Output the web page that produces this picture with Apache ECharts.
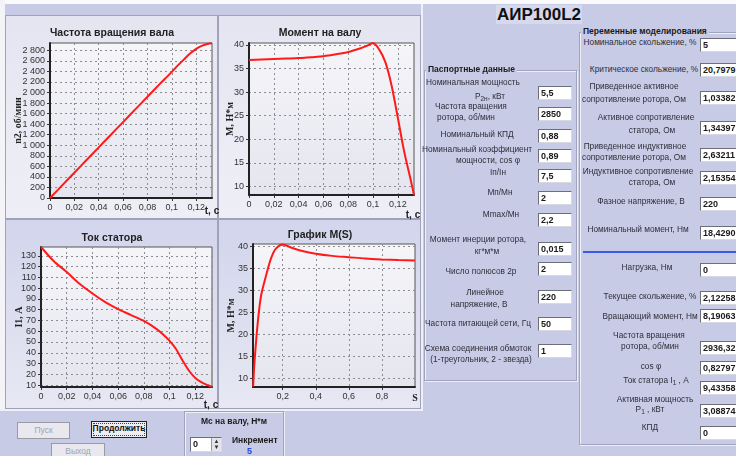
<!DOCTYPE html>
<html>
<head>
<meta charset="utf-8">
<script src="https://cdn.jsdelivr.net/npm/echarts@6/dist/echarts.min.js"></script>
<style>
html, body { margin: 0; padding: 0; width: 736px; height: 456px; overflow: hidden; background: #c8cbe5; font-family: "Liberation Sans", Arial, sans-serif; }
.abs { position: absolute; }
.panel { position: absolute; box-sizing: border-box; border: 1px solid #9fa2b8; background: linear-gradient(#e4e5f1, #eeeff6); }
.panel.low { background: linear-gradient(#d2d5ec, #e7e8f3); }
#chart { position: absolute; left: 0; top: 0; width: 425px; height: 412px; }
.lbl { position: absolute; width: 130px; font-size: 8.3px; line-height: 11px; color: #2e2e3a; text-align: center; white-space: nowrap; }
.inp { position: absolute; height: 14px; box-sizing: border-box; background: #fff; border-top: 1px solid #6e6e7a; border-left: 1px solid #6e6e7a; border-right: 1px solid #d8d8e0; border-bottom: 1px solid #d8d8e0; font-size: 9px; font-weight: bold; color: #1a1a1a; line-height: 12px; padding-left: 2px; white-space: nowrap; overflow: hidden; }
.l { left: 538px; width: 34px; }
.r { left: 700px; width: 44px; }
.grp { position: absolute; box-sizing: border-box; border: 1px solid #a0a3ba; box-shadow: inset 1px 1px 0 #eef0f8, 1px 1px 0 #eef0f8; }
.head { position: absolute; font-size: 8.5px; font-weight: bold; color: #1a1a1a; background: #c8cbe5; padding: 0 2px; line-height: 11px; }
.btn { position: absolute; box-sizing: border-box; font-size: 8.5px; text-align: center; line-height: 14px; border: 1px solid #9a9aa6; background: #e8e8ee; color: #a4a4ae; }
sub { font-size: 6.5px; vertical-align: -2px; }
</style>
</head>
<body>
<div class="abs" style="left:0;top:0;width:736px;height:4px;background:#fafafc"></div>
<div class="abs" style="left:0;top:0;width:5px;height:410px;background:#f4f4f8"></div>
<div class="abs" style="left:421px;top:4px;width:2px;height:406px;background:#eef0f8"></div>
<div class="abs" style="left:0;top:409px;width:423px;height:2px;background:#eef0f8"></div>
<div class="panel" style="left:5px;top:15px;width:213px;height:204px"></div>
<div class="panel" style="left:218px;top:15px;width:203px;height:204px"></div>
<div class="panel low" style="left:5px;top:219px;width:213px;height:190px"></div>
<div class="panel low" style="left:218px;top:219px;width:203px;height:190px"></div>
<div id="chart"></div>

<div class="abs" style="left:496px;top:5px;width:86px;height:19px;background:#d6d8ec;font-size:17px;font-weight:bold;line-height:19px;text-align:center;color:#111">АИР100L2</div>

<!-- Паспортные данные -->
<div class="grp" style="left:424px;top:70px;width:153px;height:311px"></div>
<div class="head" style="left:426px;top:64px">Паспортные данные</div>
<div class="lbl" style="left:408px;top:77px">Номинальная мощность</div>
<div class="lbl" style="left:425px;top:91px">P<sub>2н</sub>, кВт</div>
<div class="inp l" style="top:86px">5,5</div>
<div class="lbl" style="left:406px;top:101px">Частота вращения</div>
<div class="lbl" style="left:401px;top:112px">ротора, об/мин</div>
<div class="inp l" style="top:107px">2850</div>
<div class="lbl" style="left:412px;top:129px">Номинальный КПД</div>
<div class="inp l" style="top:129px">0,88</div>
<div class="lbl" style="left:412px;top:144px">Номинальный коэффициент</div>
<div class="lbl" style="left:423px;top:155px">мощности, cos φ</div>
<div class="inp l" style="top:149px">0,89</div>
<div class="lbl" style="left:433px;top:167px">Iп/Iн</div>
<div class="inp l" style="top:169px">7,5</div>
<div class="lbl" style="left:435px;top:187px">Мп/Мн</div>
<div class="inp l" style="top:191px">2</div>
<div class="lbl" style="left:436px;top:209px">Мmax/Мн</div>
<div class="inp l" style="top:213px">2,2</div>
<div class="lbl" style="left:413px;top:234px">Момент инерции ротора,</div>
<div class="lbl" style="left:422px;top:246px">кг*м*м</div>
<div class="inp l" style="top:242px">0,015</div>
<div class="lbl" style="left:416px;top:266px">Число полюсов 2р</div>
<div class="inp l" style="top:262px">2</div>
<div class="lbl" style="left:420px;top:287px">Линейное</div>
<div class="lbl" style="left:414px;top:299px">напряжение, В</div>
<div class="inp l" style="top:290px">220</div>
<div class="lbl" style="left:413px;top:318px">Частота питающей сети, Гц</div>
<div class="inp l" style="top:317px">50</div>
<div class="lbl" style="left:413px;top:343px">Схема соединения обмоток</div>
<div class="lbl" style="left:416px;top:354px">(1-треугольник, 2 - звезда)</div>
<div class="inp l" style="top:344px">1</div>

<!-- Переменные моделирования -->
<div class="grp" style="left:579px;top:32px;width:170px;height:413px"></div>
<div class="head" style="left:581px;top:26px">Переменные моделирования</div>
<div class="lbl" style="left:575px;top:37px">Номинальное скольжение, %</div>
<div class="inp r" style="top:38px">5</div>
<div class="lbl" style="left:579px;top:64px">Критическое скольжение, %</div>
<div class="inp r" style="top:63px">20,7979</div>
<div class="lbl" style="left:569px;top:81px">Приведенное активное</div>
<div class="lbl" style="left:569px;top:94px">сопротивление ротора, Ом</div>
<div class="inp r" style="top:91px">1,03382</div>
<div class="lbl" style="left:581px;top:112px">Активное сопротивление</div>
<div class="lbl" style="left:587px;top:125px">статора, Ом</div>
<div class="inp r" style="top:121px">1,34397</div>
<div class="lbl" style="left:570px;top:141px">Приведенное индуктивное</div>
<div class="lbl" style="left:569px;top:152px">сопротивление ротора, Ом</div>
<div class="inp r" style="top:148px">2,63211</div>
<div class="lbl" style="left:573px;top:166px">Индуктивное сопротивление</div>
<div class="lbl" style="left:587px;top:177px">статора, Ом</div>
<div class="inp r" style="top:171px">2,15354</div>
<div class="lbl" style="left:576px;top:196px">Фазное напряжение, В</div>
<div class="inp r" style="top:197px">220</div>
<div class="lbl" style="left:573px;top:224px">Номинальный момент, Нм</div>
<div class="inp r" style="top:226px">18,4290</div>
<div class="abs" style="left:583px;top:251px;width:153px;height:2px;background:#3c5ae6"></div>
<div class="lbl" style="left:582px;top:262px">Нагрузка, Нм</div>
<div class="inp r" style="top:263px">0</div>
<div class="lbl" style="left:585px;top:291px">Текущее скольжение, %</div>
<div class="inp r" style="top:291px">2,12258</div>
<div class="lbl" style="left:585px;top:311px">Вращающий момент, Нм</div>
<div class="inp r" style="top:309px">8,19063</div>
<div class="lbl" style="left:584px;top:330px">Частота вращения</div>
<div class="lbl" style="left:585px;top:341px">ротора, об/мин</div>
<div class="inp r" style="top:341px">2936,32</div>
<div class="lbl" style="left:586px;top:361px">cos φ</div>
<div class="inp r" style="top:361px">0,82797</div>
<div class="lbl" style="left:591px;top:375px">Ток статора I<sub>1</sub> , А</div>
<div class="inp r" style="top:381px">9,43358</div>
<div class="lbl" style="left:590px;top:394px">Активная мощность</div>
<div class="lbl" style="left:585px;top:404px">P<sub>1</sub> , кВт</div>
<div class="inp r" style="top:404px">3,08874</div>
<div class="lbl" style="left:585px;top:422px">КПД</div>
<div class="inp r" style="top:426px">0</div>

<!-- кнопки -->
<div class="btn" style="left:17px;top:422px;width:53px;height:17px;line-height:15px">Пуск</div>
<div class="btn" style="left:91px;top:421px;width:56px;height:17px;line-height:13px;background:#eeeef2;color:#111;font-weight:bold;border:1px solid #222;outline:1px dotted #444;outline-offset:-3px;overflow:hidden;white-space:nowrap">Продолжить</div>
<div class="btn" style="left:51px;top:443px;width:54px;height:17px;line-height:15px">Выход</div>
<div class="grp" style="left:184px;top:411px;width:100px;height:50px"></div>
<div class="abs" style="left:186px;top:416px;width:96px;text-align:center;font-size:8.5px;font-weight:bold;color:#1a1a1a">Мс на валу, Н*м</div>
<div class="inp" style="left:190px;top:437px;width:32px;height:15px">0<span style="position:absolute;right:0;top:0;width:9px;height:13px;background:#e4e4ea;border-left:1px solid #999;font-size:6px;line-height:6px;text-align:center;color:#333">▲<br>▼</span></div>
<div class="abs" style="left:232px;top:435px;font-size:8.5px;font-weight:bold;color:#1a1a1a">Инкремент</div>
<div class="abs" style="left:247px;top:446px;font-size:9px;font-weight:bold;color:#2448e0">5</div>

<script>
// время переходного процесса, с
var timeS = [0, 0.01, 0.02, 0.03, 0.04, 0.05, 0.06, 0.07, 0.08, 0.09, 0.095, 0.1, 0.105, 0.11, 0.115, 0.12, 0.125, 0.13, 0.133]
var speedRpm = [0, 240, 480, 720, 960, 1200, 1440, 1680, 1920, 2160, 2275, 2392, 2515, 2630, 2740, 2830, 2890, 2925, 2936]
var torqueNm = [36.8, 36.9, 37.0, 37.1, 37.2, 37.4, 37.6, 38.0, 38.5, 39.3, 39.8, 40.4, 39.0, 36.3, 31.3, 24.5, 17.5, 11.8, 8.2]
var currentA = [138.2, 125, 115, 104, 95, 87, 80.5, 75, 69.5, 62, 57, 51, 43.5, 33, 23.5, 16.5, 12.5, 9.8, 8.3]
// характеристика M(S)
var slipS = [0.0212, 0.03, 0.05, 0.07, 0.1, 0.13, 0.16, 0.2, 0.25, 0.3, 0.4, 0.5, 0.6, 0.7, 0.8, 0.9, 1.0]
var slipTorqueNm = [8.19, 14, 23, 29, 33.5, 37.4, 39.6, 40.5, 39.8, 39.2, 38.4, 37.9, 37.6, 37.3, 37.1, 36.95, 36.85]
// подписи осей
var timeTicks = [0, 0.02, 0.04, 0.06, 0.08, 0.1, 0.12]
var speedTicks = [0, 200, 400, 600, 800, 1000, 1200, 1400, 1600, 1800, 2000, 2200, 2400, 2600, 2800]
var torqueTicks = [10, 15, 20, 25, 30, 35, 40]
var currentTicks = [10, 20, 30, 40, 50, 60, 70, 80, 90, 100, 110, 120, 130]
var slipTicks = [0.2, 0.4, 0.6, 0.8]

function fmt(v) {
  var s = String(v).replace('.', ',')
  if (v >= 1000) s = s.slice(0, s.length - 3) + ' ' + s.slice(-3)
  return s
}
function pairs(xs, ys) {
  return xs.map(function(x, i) { return [x, ys[i]] })
}

var plotBg = new echarts.graphic.LinearGradient(0, 0, 0, 1, [
  { offset: 0, color: '#f6f6f9' },
  { offset: 1, color: '#e4e5ee' }
])

function grid(l, t, w, h) {
  return { left: l, top: t, width: w, height: h, show: true, backgroundColor: plotBg, borderColor: '#555', borderWidth: 1 }
}
function axis(idx, min, max, ticks, extra) {
  var a = {
    type: 'value', gridIndex: idx, min: min, max: max,
    axisLine: { show: true, onZero: false, lineStyle: { color: '#222', width: 2 } },
    axisTick: { show: true, length: 3, customValues: ticks, lineStyle: { color: '#333' } },
    axisLabel: { customValues: ticks, formatter: fmt, color: '#333', fontSize: 9, margin: 5, fontFamily: 'Liberation Sans' },
    splitLine: { show: true, lineStyle: { color: '#8c8c96', type: [2, 3], width: 1 } }
  }
  return Object.assign(a, extra || {})
}
function yName(text, gap) {
  return {
    name: text, nameLocation: 'middle', nameRotate: 90, nameGap: gap, nameMoveOverlap: false,
    nameTextStyle: { fontFamily: 'Liberation Serif', fontWeight: 'bold', fontSize: 10, color: '#222' }
  }
}
function label(text, x, y, font) {
  return {
    type: 'text', x: x, y: y, z: 10,
    style: { text: text, font: font || 'bold 10px "Liberation Sans"', fill: '#222', textAlign: 'center', textVerticalAlign: 'middle', align: 'center', verticalAlign: 'middle' }
  }
}
function line(idx, data) {
  return {
    type: 'line', xAxisIndex: idx, yAxisIndex: idx, data: data, smooth: 0.3,
    showSymbol: false, lineStyle: { color: '#ff1a1a', width: 2 }, itemStyle: { color: '#ff1a1a' }
  }
}

var titleFont = 'bold 10.5px "Liberation Sans"'
var chart = echarts.init(document.getElementById('chart'))
chart.setOption({
  animation: false,
  backgroundColor: 'transparent',
  grid: [grid(50, 43, 162, 155), grid(249, 43, 165, 152), grid(41, 247, 171, 140), grid(253, 244, 162, 143)],
  xAxis: [
    axis(0, 0, 0.133, timeTicks),
    axis(1, 0, 0.133, timeTicks),
    axis(2, 0, 0.133, timeTicks),
    axis(3, 0.0205, 1.0, slipTicks)
  ],
  yAxis: [
    axis(0, 0, 2940, speedTicks, yName('n2, об/мин', 27)),
    axis(1, 8.2, 40.4, torqueTicks, yName('M, Н*м', 14)),
    axis(2, 8.2, 138.2, currentTicks, yName('I1, А', 17)),
    axis(3, 8.1, 40.6, torqueTicks, yName('M, Н*м', 17))
  ],
  graphic: [
    label('Частота вращения вала', 112, 33, titleFont),
    label('Момент на валу', 320, 33, titleFont),
    label('Ток статора', 112, 238, titleFont),
    label('График M(S)', 320, 235, titleFont),
    label('t, c', 212, 211),
    label('t, c', 413, 215),
    label('t, c', 211, 405),
    label('S', 415, 398, 'bold 10px "Liberation Serif"')
  ],
  series: [
    line(0, pairs(timeS, speedRpm)),
    line(1, pairs(timeS, torqueNm)),
    line(2, pairs(timeS, currentA)),
    line(3, pairs(slipS, slipTorqueNm))
  ]
})
</script>
</body>
</html>
